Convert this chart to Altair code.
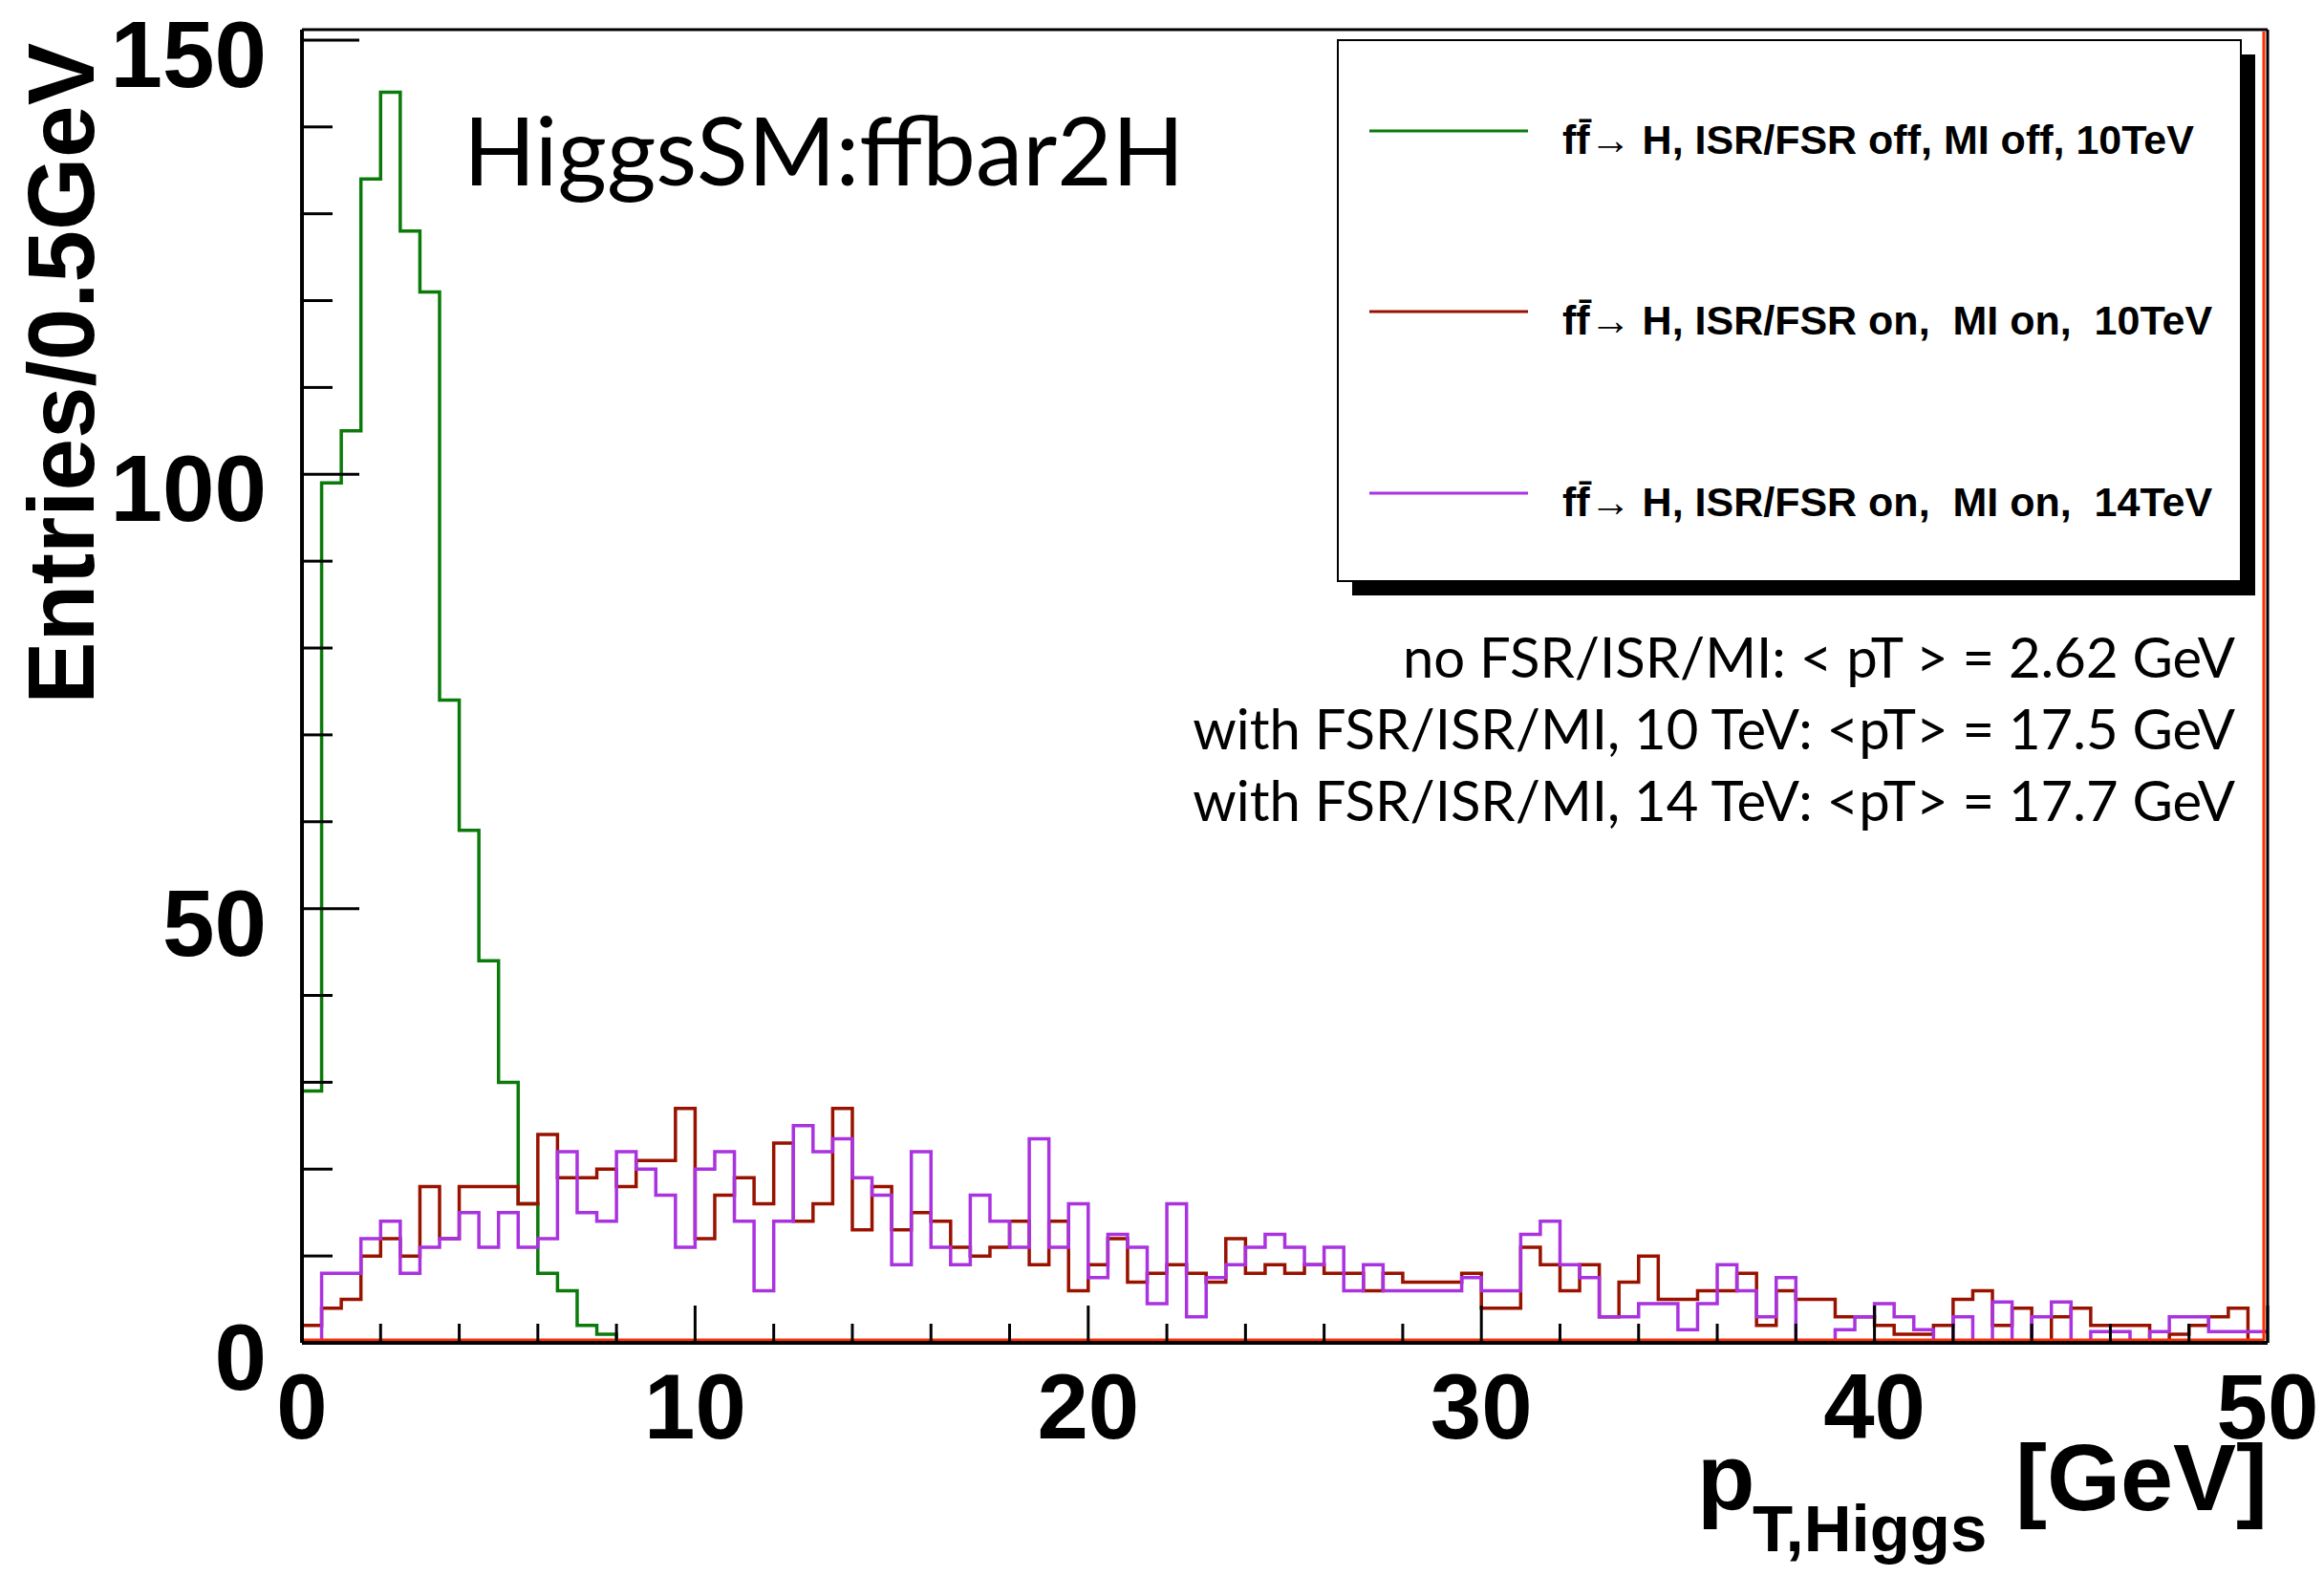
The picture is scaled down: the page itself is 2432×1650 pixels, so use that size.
import altair as alt
import pandas as pd

# ---------------- data ----------------
bin_edges = [i * 0.5 for i in range(101)]  # 100 bins of 0.5 GeV, 0..50 GeV

green_counts = [29, 99, 105, 134, 144, 128, 121, 74, 59, 44, 30, 16, 8, 6, 2, 1] + [0] * 84

red_counts = [
    2, 4, 5, 10, 12, 10, 18, 12, 18, 18, 18, 16, 24, 19, 19, 20, 18, 21, 21,
    27, 12, 17, 19, 16, 23, 14, 16, 27, 13, 18, 13, 15, 14, 11, 10, 11, 14, 9, 14, 6, 9, 12,
    7, 8, 9, 8, 7, 12, 8, 9, 8, 9, 8, 8, 6, 8, 7, 7, 7, 8, 4, 4, 11, 9, 6,
    9, 3, 7, 10, 5, 5, 6, 6, 8, 2, 6, 5, 5, 3, 3, 2, 1, 1, 2, 5, 6, 2, 4, 0, 3, 4, 2, 2, 2, 0, 1, 2, 3, 4, 0,
]

purple_counts = [
    0, 8, 8, 12, 14, 8, 11, 12, 15, 11, 15, 11, 12, 22, 15, 14, 22, 20, 17,
    11, 20, 22, 14, 6, 14, 25, 22, 23.5, 19, 17, 9, 22, 11, 9, 17, 14, 11, 23.5, 11, 16, 7.5, 12.5,
    11, 4.5, 16, 3, 7.5, 9, 11, 12.5, 11, 9, 11, 6, 9, 6, 6, 6, 6, 7.5, 6, 6, 12.5, 14, 9,
    7.5, 3, 3, 4.5, 4.5, 1.5, 4.5, 9, 6, 3, 7.5, 0, 0, 1.5, 3, 4.5, 3, 1.5, 0, 3, 0, 4.7, 0, 3, 4.7,
    0, 1.3, 1.3, 0, 1.3, 3, 3, 1.3, 1.3, 1.3,
]

series_counts = [green_counts, red_counts, purple_counts]
series_colors = ["#0B7A0B", "#991200", "#AA33E0"]
legend_labels = [
    "ff\u0304\u2192 H, ISR/FSR off, MI off, 10TeV",
    "ff\u0304\u2192 H, ISR/FSR on,\u00a0 MI on,\u00a0 10TeV",
    "ff\u0304\u2192 H, ISR/FSR on,\u00a0 MI on,\u00a0 14TeV",
]
stats_lines = [
    "no FSR/ISR/MI: < pT > = 2.62 GeV",
    "with FSR/ISR/MI, 10 TeV: <pT> = 17.5 GeV",
    "with FSR/ISR/MI, 14 TeV: <pT> = 17.7 GeV",
]
title_text = "HiggsSM:ffbar2H"
y_title = "Entries/0.5GeV"
x_title_main = "p"
x_title_sub = "T,Higgs"
x_title_unit = "[GeV]"

x_major_ticks = [0, 10, 20, 30, 40, 50]
x_minor_ticks = [2, 4, 6, 8, 12, 14, 16, 18, 22, 24, 26, 28, 32, 34, 36, 38, 42, 44, 46, 48]
y_major_ticks = [0, 50, 100, 150]
y_minor_ticks = [10, 20, 30, 40, 60, 70, 80, 90, 110, 120, 130, 140]
y_max = 151.2

# ---------------- layout ----------------
W, H = 2057, 1374
BOLD = "Liberation Sans"
GILL = "Lato"

xs = alt.Scale(domain=[0, 50], nice=False, zero=False)
ys = alt.Scale(domain=[0, y_max], nice=False, zero=False)

one = pd.DataFrame({"k": [0]})


def step_rows(counts):
    return pd.DataFrame({"x": bin_edges, "y": list(counts) + [counts[-1]]})


def prule(x1, y1, x2, y2, color, w):
    return alt.Chart(one).mark_rule(color=color, strokeWidth=w).encode(
        x=alt.value(x1), y=alt.value(y1), x2=alt.value(x2), y2=alt.value(y2))


def prect(x1, y1, x2, y2, fill, stroke=None, sw=0):
    kw = dict(fill=fill)
    if stroke is not None:
        kw.update(stroke=stroke, strokeWidth=sw)
    return alt.Chart(one).mark_rect(**kw).encode(
        x=alt.value(x1), y=alt.value(y1), x2=alt.value(x2), y2=alt.value(y2))


def ptext(text, x, y, size, font, weight="normal", align="left", angle=0):
    return alt.Chart(pd.DataFrame({"t": [text]})).mark_text(
        align=align, baseline="alphabetic", fontSize=size, font=font,
        fontWeight=weight, angle=angle, color="black").encode(
        x=alt.value(x), y=alt.value(y), text="t:N")


def hticks(vals, length):
    return alt.Chart(pd.DataFrame({"v": vals})).mark_rule(color="black", strokeWidth=3).encode(
        y=alt.Y("v:Q", scale=ys, axis=None), x=alt.value(0), x2=alt.value(length))


def vticks(vals, length):
    return alt.Chart(pd.DataFrame({"v": vals})).mark_rule(color="black", strokeWidth=3).encode(
        x=alt.X("v:Q", scale=xs, axis=None), y=alt.value(H), y2=alt.value(H - length))


layers = []
for i, (counts, color) in enumerate(zip(series_counts, series_colors)):
    layers.append(
        alt.Chart(step_rows(counts)).mark_line(interpolate="step-after", color=color,
                                               strokeWidth=3.5, clip=True).encode(
            x=alt.X("x:Q", scale=xs, axis=None),
            y=alt.Y("y:Q", scale=ys, axis=None),
        )
    )

# red zero-level line and right edge
layers.append(prule(0, H - 3, W - 3, H - 3, "#FF2A00", 3))
layers.append(prule(W - 4, 2, W - 4, H - 3, "#FF2A00", 3))

# frame
layers.append(prule(0, 0, W, 0, "black", 3))
layers.append(prule(0, 0, 0, H, "black", 4))
layers.append(prule(0, H, W, H, "black", 4))
layers.append(prule(W, 0, W, H, "black", 3))

# inward ticks
layers.append(hticks(y_major_ticks, 60))
layers.append(hticks(y_minor_ticks, 32))
layers.append(vticks(x_major_ticks, 39))
layers.append(vticks(x_minor_ticks, 20))

# tick labels
layers.append(
    alt.Chart(pd.DataFrame({"v": x_major_ticks})).mark_text(
        align="center", baseline="alphabetic", fontSize=96, font=BOLD,
        fontWeight="bold", color="black").encode(
        x=alt.X("v:Q", scale=xs, axis=None), y=alt.value(H + 100),
        text=alt.Text("v:Q", format="d"))
)
layers.append(
    alt.Chart(pd.DataFrame({"v": y_major_ticks})).mark_text(
        align="right", baseline="alphabetic", fontSize=98, font=BOLD,
        fontWeight="bold", color="black", dy=49).encode(
        y=alt.Y("v:Q", scale=ys, axis=None), x=alt.value(-37),
        text=alt.Text("v:Q", format="d"))
)

# legend box with shadow
layers.append(prect(1099, 26, 2044, 592, "black"))
layers.append(prect(1084, 11, 2029, 577, "white", "black", 2))
legend_y = [106, 295, 485]
for label, color, ly in zip(legend_labels, series_colors, legend_y):
    layers.append(prule(1117, ly, 1283, ly, color, 3))
    layers.append(ptext(label, 1319, ly + 24, 43, BOLD, weight="bold"))

# title and statistics text
layers.append(ptext(title_text, 169, 163, 99, GILL))
for k, line in enumerate(stats_lines):
    layers.append(ptext(line, 2023, 678 + 75 * k, 58, GILL, align="right"))

# axis titles
layers.append(ptext(y_title, -218, 14, 98, BOLD, weight="bold", align="right", angle=270))
layers.append(ptext(x_title_main, 1460, 1549, 99, BOLD, weight="bold"))
layers.append(ptext(x_title_sub, 1518, 1592, 69, BOLD, weight="bold"))
layers.append(ptext(x_title_unit, 2057, 1549, 99, BOLD, weight="bold", align="right"))

chart = alt.layer(*layers).properties(
    width=W, height=H,
    padding={"left": 308, "top": 23, "right": 51, "bottom": 232},
    autosize=alt.AutoSizeParams(type="none"),
    background="white",
).configure_view(stroke=None)

chart.save("out.html", embed_options={"renderer": "svg", "actions": False})
